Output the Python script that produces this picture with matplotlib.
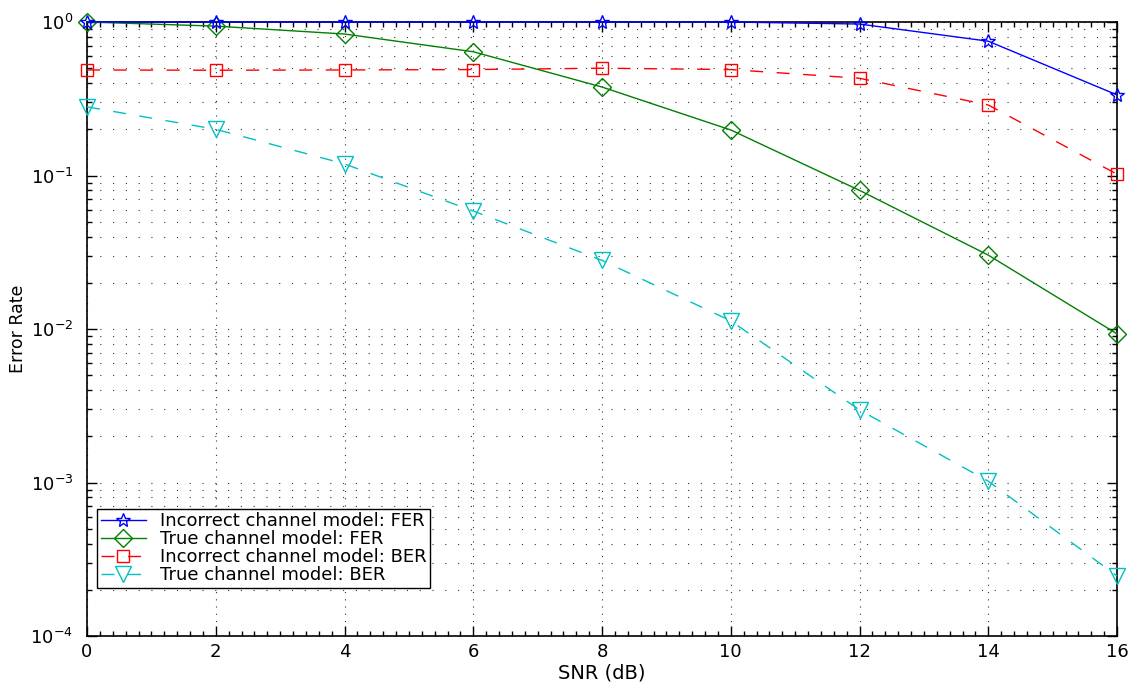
import numpy as np
import matplotlib
matplotlib.use("Agg")
import matplotlib.pyplot as plt
from matplotlib.ticker import LogLocator, MultipleLocator, NullFormatter

plt.rcParams['font.family'] = ['DejaVu Sans']
plt.rcParams['mathtext.fontset'] = 'custom'
plt.rcParams['mathtext.rm'] = 'DejaVu Sans'
plt.rcParams['mathtext.it'] = 'DejaVu Sans'
plt.rcParams['mathtext.default'] = 'regular'

snr_db = [0, 2, 4, 6, 8, 10, 12, 14, 16]
fer_incorrect = [1.0, 1.0, 1.0, 1.0, 1.0, 1.0, 0.97, 0.75, 0.335]
fer_true = [1.0, 0.94, 0.835, 0.64, 0.377, 0.198, 0.080, 0.0303, 0.0093]
ber_incorrect = [0.487, 0.485, 0.487, 0.49, 0.50, 0.49, 0.43, 0.288, 0.102]
ber_true = [0.28, 0.20, 0.119, 0.0587, 0.028, 0.0113, 0.00297, 0.00102, 0.000246]

labels = ["Incorrect channel model: FER", "True channel model: FER",
          "Incorrect channel model: BER", "True channel model: BER"]

fig = plt.figure(figsize=(11.4, 6.83), dpi=100)
ax = fig.add_axes([87/1140, 1 - 636/683, (1117-87)/1140, (636-22)/683])

dash = (9.4, 9.7)
common = dict(lw=1.0, mfc='none', mew=1.0, clip_on=False)
ax.semilogy(snr_db, fer_incorrect, color='#0000ff', marker='*', ms=10.5,
            label=labels[0], zorder=5, **common)
ax.semilogy(snr_db, fer_true, color='#008000', marker='D', ms=9,
            label=labels[1], zorder=4, **common)
ax.semilogy(snr_db, ber_incorrect, color='#ff0000', marker='s', ms=9,
            dashes=dash, label=labels[2], zorder=3, **common)
ax.semilogy(snr_db, ber_true, color='#00c0c0', marker='v', ms=11.5,
            dashes=dash, label=labels[3], zorder=3, **common)

ax.set_xlim(0, 16)
ax.set_ylim(1e-4, 1)
ax.xaxis.set_major_locator(MultipleLocator(2))
ax.xaxis.set_minor_locator(MultipleLocator(0.2))
ax.yaxis.set_major_locator(LogLocator(base=10, numticks=10))
ax.yaxis.set_minor_locator(LogLocator(base=10, subs=np.arange(2, 10), numticks=20))
ax.yaxis.set_minor_formatter(NullFormatter())

ax.grid(True, which='major', axis='x', ls=(0, (1, 5.5)), color='#333333', lw=0.8)
ax.grid(True, which='both', axis='y', ls=(0, (1, 10.5)), color='#333333', lw=0.8)

ax.tick_params(which='both', direction='in', top=True, right=True,
               labelsize=13, width=1.0, colors='black')
ax.tick_params(which='major', length=7)
ax.tick_params(which='minor', length=3.5)
ax.tick_params(axis='y', which='major', pad=10)
ax.tick_params(axis='x', which='major', pad=5)
for sp in ax.spines.values():
    sp.set_linewidth(1.2)

ax.set_xlabel("SNR (dB)", fontsize=14, labelpad=2)
ax.set_ylabel("Error Rate", fontsize=12.5)
ax.yaxis.set_label_coords(-(87 - 27) / 1030, 0.5)

leg = ax.legend(loc='lower left', bbox_to_anchor=(10/1030, 48/614), fontsize=13,
                frameon=True, fancybox=False, framealpha=1, edgecolor='black',
                handlelength=2.5, borderpad=0.2, labelspacing=0.0,
                handletextpad=0.8, borderaxespad=0)
leg.get_frame().set_linewidth(1.0)

fig.savefig("out.png", dpi=100)
